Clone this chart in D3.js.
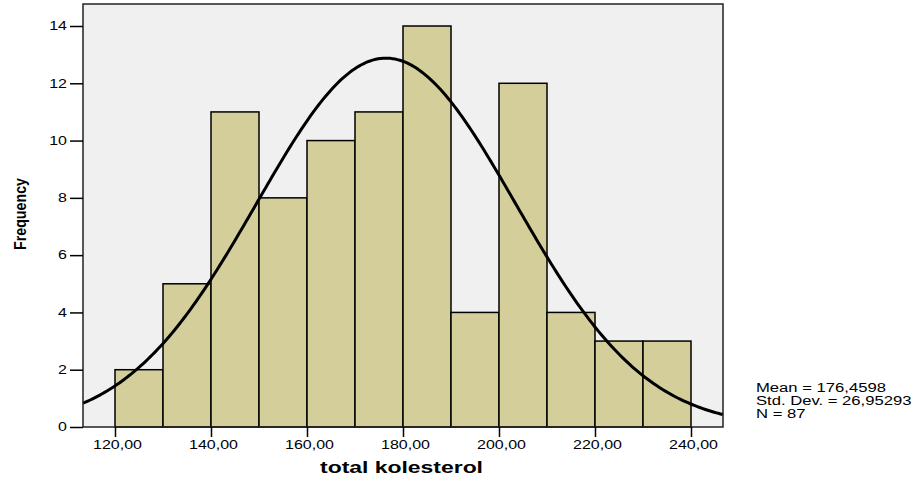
<!DOCTYPE html>
<html>
<head>
<meta charset="utf-8">
<script src="https://cdn.jsdelivr.net/npm/d3@7"></script>
<style>
  body { margin: 0; background: #fff; }
  text { font-family: "Liberation Sans", Arial, sans-serif; }
</style>
</head>
<body>
<div id="chart"></div>
<script>
// histograma de colesterol total con curva normal

const binStarts = [120, 130, 140, 150, 160, 170, 180, 190, 200, 210, 220, 230];
const frequencies = [2, 5, 11, 8, 10, 11, 14, 4, 12, 4, 3, 3];
const xTicks = [120, 140, 160, 180, 200, 220, 240];
const yTicks = [0, 2, 4, 6, 8, 10, 12, 14];
const stats = { mean: 176.4598, sd: 26.95293, n: 87 };
const statLines = ["Mean = 176,4598", "Std. Dev. = 26,95293", "N = 87"];
const binWidth = 10;

const W = 922, H = 483;
const pLeft = 83, pRight = 723, pTop = 4, pBottom = 427;

const svg = d3.select("#chart").append("svg")
    .attr("width", W)
    .attr("height", H);

const x = d3.scaleLinear([113.333, 246.667], [pLeft, pRight]);
const y = d3.scaleLinear([0, 14], [pBottom, 26]);

// ensancha el texto como en el original
function widen(sel, k) {
    sel.each(function () {
        const w = this.getComputedTextLength();
        d3.select(this).attr("textLength", w * k).attr("lengthAdjust", "spacingAndGlyphs");
    });
}

// fondo
svg.append("rect")
    .attr("x", pLeft).attr("y", pTop)
    .attr("width", pRight - pLeft).attr("height", pBottom - pTop)
    .attr("fill", "#f0f0f0");

// barras
svg.selectAll("rect.bar")
    .data(binStarts.map((b, i) => ({ b, f: frequencies[i] })))
    .enter().append("rect")
    .classed("bar", true)
    .attr("x", d => x(d.b))
    .attr("y", d => y(d.f))
    .attr("width", d => x(d.b + binWidth) - x(d.b))
    .attr("height", d => y(0) - y(d.f))
    .attr("fill", "#d3ce9a")
    .attr("stroke", "#000")
    .attr("stroke-width", 1.5);

// curva normal escalada a N * ancho de cajón
const dens = v => stats.n * binWidth / (stats.sd * Math.sqrt(2 * Math.PI))
    * Math.exp(-0.5 * Math.pow((v - stats.mean) / stats.sd, 2));
const curve = d3.range(113.333, 246.667, 0.5).concat([246.667]).map(v => [v, dens(v)]);
svg.append("path")
    .datum(curve)
    .attr("d", d3.line().x(d => x(d[0])).y(d => y(d[1])))
    .attr("fill", "none")
    .attr("stroke", "#000")
    .attr("stroke-width", 3);

// marco
svg.append("rect")
    .attr("x", pLeft).attr("y", pTop)
    .attr("width", pRight - pLeft).attr("height", pBottom - pTop)
    .attr("fill", "none")
    .attr("stroke", "#222")
    .attr("stroke-width", 1.5);

// ejes
const fmt = d => d3.format(".2f")(d).replace(".", ",");
svg.append("g")
    .attr("transform", `translate(0,${pBottom})`)
    .call(d3.axisBottom(x).tickValues(xTicks).tickSize(10).tickPadding(3).tickFormat(fmt))
    .call(g => g.select(".domain").remove())
    .call(g => g.selectAll("line").attr("stroke", "#000").attr("stroke-width", 1.5))
    .call(g => g.selectAll("text").attr("font-size", 12).attr("fill", "#000").attr("dx", 2)
        .attr("font-family", "'Liberation Sans', Arial, sans-serif").call(widen, 1.33));

svg.append("g")
    .attr("transform", `translate(${pLeft},0)`)
    .call(d3.axisLeft(y).tickValues(yTicks).tickSize(13).tickPadding(3))
    .call(g => g.select(".domain").remove())
    .call(g => g.selectAll("line").attr("stroke", "#000").attr("stroke-width", 1.5))
    .call(g => g.selectAll("text").attr("font-size", 12).attr("fill", "#000")
        .attr("font-family", "'Liberation Sans', Arial, sans-serif").call(widen, 1.33));

// títulos de ejes
svg.append("text")
    .attr("x", 320)
    .attr("y", 473)
    .attr("font-size", 16)
    .attr("font-weight", "bold")
    .attr("textLength", 163)
    .attr("lengthAdjust", "spacingAndGlyphs")
    .text("total kolesterol");

svg.append("text")
    .attr("transform", "translate(26,250) rotate(-90)")
    .attr("font-size", 16.5)
    .attr("font-weight", "bold")
    .attr("textLength", 72)
    .attr("lengthAdjust", "spacingAndGlyphs")
    .text("Frequency");

// estadísticos
svg.append("g").selectAll("text")
    .data(statLines)
    .enter().append("text")
    .attr("x", 756)
    .attr("y", (d, i) => 392.3 + i * 13)
    .attr("font-size", 12.5)
    .text(d => d)
    .call(widen, 1.33);
</script>
</body>
</html>
